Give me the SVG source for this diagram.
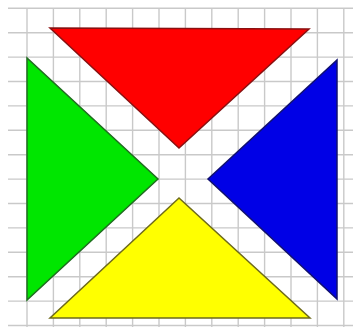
<svg xmlns="http://www.w3.org/2000/svg" width="353" height="327" viewBox="0 0 353 327">
<style>
.g{stroke:#c9c9c9;stroke-width:1.4;fill:none}
.t{stroke-width:1.5;stroke-linejoin:miter}
</style>
<rect width="353" height="327" fill="#ffffff"/>
<g id="grid">
<path class="g" d="M27,8V327M53.4,8V327M79.8,8V327M106.2,8V327M132.6,8V327M159,8V327M185.4,8V327M211.8,8V327M238.2,8V327M264.6,8V327M291,8V327M317.4,8V327M343.8,8V327"/>
<path class="g" d="M8,8.3H353M8,32.7H353M8,57.1H353M8,81.5H353M8,105.9H353M8,130.3H353M8,154.7H353M8,179.1H353M8,203.5H353M8,227.9H353M8,252.3H353M8,276.7H353M8,301.1H353M8,325.5H353"/>
</g>
<g id="red"><polygon class="t" points="50,28 309,29 179,148" fill="#ff0000" stroke="#8a1010"/></g>
<g id="green"><polygon class="t" points="27,58 27,300 158,179" fill="#00e600" stroke="#1f6e1f"/></g>
<g id="blue"><polygon class="t" points="337,60 337,299 208,179" fill="#0000e6" stroke="#101070"/></g>
<g id="yellow"><polygon class="t" points="179,198 50,318 310,318" fill="#ffff00" stroke="#6e6a1a"/></g>
</svg>
